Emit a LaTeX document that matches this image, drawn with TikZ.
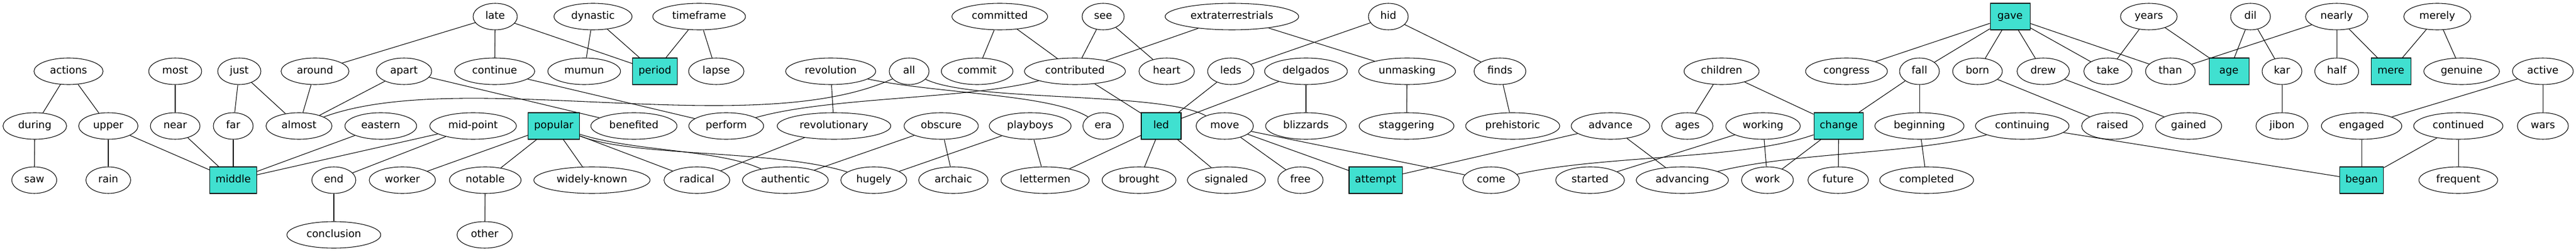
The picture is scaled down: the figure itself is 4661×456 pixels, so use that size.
\documentclass[tikz,border=0pt]{standalone}
\usepackage{fontspec}
\setmainfont{DejaVu Sans}
\usetikzlibrary{shapes.geometric}
\definecolor{hubfill}{HTML}{40E0D0}
\begin{document}
\begin{tikzpicture}[x=0.75pt,y=-0.75pt,
  every node/.style={font=\fontsize{14pt}{16pt}\selectfont, text height=10.3pt, text depth=3.3pt},
  word/.style={ellipse, draw, line width=0.8pt, inner xsep=7.92pt, inner ysep=2pt, minimum width=54pt, minimum height=36pt},
  hub/.style={rectangle, draw, fill=hubfill, line width=0.8pt, inner xsep=7.92pt, inner ysep=2pt, minimum width=54pt, minimum height=36pt},
  link/.style={line width=0.8pt}]
\useasboundingbox (0,0) rectangle (4661,456);
% row 0
\node[word] (late) at (896,30) {late};
\node[word] (dynastic) at (1073,30) {dynastic};
\node[word] (timeframe) at (1265,30) {timeframe};
\node[word] (committed) at (1809,30) {committed};
\node[word] (see) at (1996,30) {see};
\node[word] (extra) at (2229,30) {extraterrestrials};
\node[word] (hid) at (2512,30) {hid};
\node[hub] (gave) at (3637,30) {gave};
\node[word] (years) at (3888,30) {years};
\node[word] (dil) at (4072,30) {dil};
\node[word] (nearly) at (4228,30) {nearly};
\node[word] (merely) at (4410,30) {merely};
% row 1
\node[word] (actions) at (124,129) {actions};
\node[word] (most) at (317,129) {most};
\node[word] (just) at (433,129) {just};
\node[word] (around) at (570,129) {around};
\node[word] (apart) at (731,129) {apart};
\node[word] (continue) at (895,129) {continue};
\node[word] (mumun) at (1057,129) {mumun};
\node[hub] (period) at (1185,129) {period};
\node[word] (lapse) at (1296,129) {lapse};
\node[word] (revolution) at (1503,129) {revolution};
\node[word] (all) at (1645,129) {all};
\node[word] (commit) at (1768,129) {commit};
\node[word] (contributed) at (1945,129) {contributed};
\node[word] (heart) at (2111,129) {heart};
\node[word] (leds) at (2227,129) {leds};
\node[word] (delgados) at (2363,129) {delgados};
\node[word] (unmasking) at (2546,129) {unmasking};
\node[word] (finds) at (2714,129) {finds};
\node[word] (children) at (3115,129) {children};
\node[word] (congress) at (3341,129) {congress};
\node[word] (fall) at (3473,129) {fall};
\node[word] (born) at (3578,129) {born};
\node[word] (drew) at (3697,129) {drew};
\node[word] (take) at (3814,129) {take};
\node[word] (than) at (3927,129) {than};
\node[hub] (age) at (4033,129) {age};
\node[word] (kar) at (4129,129) {kar};
\node[word] (half) at (4228,129) {half};
\node[hub] (mere) at (4326,129) {mere};
\node[word] (genuine) at (4454,129) {genuine};
\node[word] (active) at (4601,129) {active};
% row 2
\node[word] (during) at (63,228) {during};
\node[word] (upper) at (196,228) {upper};
\node[word] (near) at (317,228) {near};
\node[word] (far) at (422,228) {far};
\node[word] (almost) at (541,228) {almost};
\node[word] (eastern) at (689,228) {eastern};
\node[word] (midpoint) at (856,228) {mid-point};
\node[hub] (popular) at (1002,228) {popular};
\node[word] (benefited) at (1147,228) {benefited};
\node[word] (perform) at (1314,228) {perform};
\node[word] (revolutionary) at (1509,228) {revolutionary};
\node[word] (obscure) at (1703,228) {obscure};
\node[word] (playboys) at (1864,228) {playboys};
\node[word] (era) at (1996,228) {era};
\node[hub] (led) at (2101,228) {led};
\node[word] (move) at (2216,228) {move};
\node[word] (blizzards) at (2363,228) {blizzards};
\node[word] (staggering) at (2545,228) {staggering};
\node[word] (prehistoric) at (2737,228) {prehistoric};
\node[word] (advance) at (2914,228) {advance};
\node[word] (ages) at (3053,228) {ages};
\node[word] (working) at (3190,228) {working};
\node[hub] (change) at (3327,228) {change};
\node[word] (beginning) at (3473,228) {beginning};
\node[word] (continuing) at (3659,228) {continuing};
\node[word] (raised) at (3822,228) {raised};
\node[word] (gained) at (3960,228) {gained};
\node[word] (jibon) at (4129,228) {jibon};
\node[word] (engaged) at (4273,228) {engaged};
\node[word] (continued) at (4448,228) {continued};
\node[word] (wars) at (4601,228) {wars};
% row 3
\node[word] (saw) at (62,326) {saw};
\node[word] (rain) at (196,326) {rain};
\node[hub] (middle) at (422,326) {middle};
\node[word] (nend) at (604,326) {end};
\node[word] (worker) at (728,326) {worker};
\node[word] (notable) at (878,326) {notable};
\node[word] (widely) at (1071,326) {widely-known};
\node[word] (radical) at (1261,326) {radical};
\node[word] (authentic) at (1421,326) {authentic};
\node[word] (hugely) at (1581,326) {hugely};
\node[word] (archaic) at (1725,326) {archaic};
\node[word] (lettermen) at (1891,326) {lettermen};
\node[word] (brought) at (2061,326) {brought};
\node[word] (signaled) at (2219,326) {signaled};
\node[word] (free) at (2353,326) {free};
\node[hub] (attempt) at (2489,326) {attempt};
\node[word] (come) at (2698,326) {come};
\node[word] (started) at (2877,326) {started};
\node[word] (advancing) at (3044,326) {advancing};
\node[word] (work) at (3198,326) {work};
\node[word] (future) at (3326,326) {future};
\node[word] (completed) at (3486,326) {completed};
\node[hub] (began) at (4273,326) {began};
\node[word] (frequent) at (4448,326) {frequent};
% row 4
\node[word] (conclusion) at (604,425) {conclusion};
\node[word] (other) at (877,425) {other};
% edges
\draw[link] (actions) -- (during);
\draw[link] (actions) -- (upper);
\draw[link] (during) -- (saw);
\draw[link] (upper) -- (rain);
\draw[link] (upper) -- (middle);
\draw[link] (most) -- (near);
\draw[link] (near) -- (middle);
\draw[link] (just) -- (far);
\draw[link] (just) -- (almost);
\draw[link] (far) -- (middle);
\draw[link] (around) -- (almost);
\draw[link] (apart) -- (almost);
\draw[link] (apart) -- (benefited);
\draw[link] (almost) .. controls (836,120) and (1364,257) .. (all);
\draw[link] (eastern) -- (middle);
\draw[link] (midpoint) -- (middle);
\draw[link] (midpoint) -- (nend);
\draw[link] (nend) -- (conclusion);
\draw[link] (late) -- (around);
\draw[link] (late) -- (continue);
\draw[link] (late) -- (period);
\draw[link] (dynastic) -- (mumun);
\draw[link] (dynastic) -- (period);
\draw[link] (timeframe) -- (period);
\draw[link] (timeframe) -- (lapse);
\draw[link] (continue) -- (perform);
\draw[link] (perform) .. controls (1500,175) and (1750,180) .. (contributed);
\draw[link] (revolution) -- (revolutionary);
\draw[link] (revolution) .. controls (1700,170) and (1900,170) .. (era);
\draw[link] (all) .. controls (1760,185) and (2100,165) .. (move);
\draw[link] (popular) -- (worker);
\draw[link] (popular) -- (notable);
\draw[link] (popular) -- (widely);
\draw[link] (popular) -- (radical);
\draw[link] (popular) .. controls (1150,275) and (1300,270) .. (authentic);
\draw[link] (popular) .. controls (1150,285) and (1400,270) .. (hugely);
\draw[link] (notable) -- (other);
\draw[link] (revolutionary) -- (radical);
\draw[link] (obscure) -- (authentic);
\draw[link] (obscure) -- (archaic);
\draw[link] (playboys) -- (hugely);
\draw[link] (playboys) -- (lettermen);
\draw[link] (committed) -- (commit);
\draw[link] (committed) -- (contributed);
\draw[link] (see) -- (contributed);
\draw[link] (see) -- (heart);
\draw[link] (extra) -- (contributed);
\draw[link] (extra) -- (unmasking);
\draw[link] (contributed) -- (led);
\draw[link] (leds) -- (led);
\draw[link] (hid) -- (leds);
\draw[link] (hid) -- (finds);
\draw[link] (delgados) -- (led);
\draw[link] (delgados) -- (blizzards);
\draw[link] (unmasking) -- (staggering);
\draw[link] (finds) -- (prehistoric);
\draw[link] (led) -- (lettermen);
\draw[link] (led) -- (brought);
\draw[link] (led) -- (signaled);
\draw[link] (move) -- (free);
\draw[link] (move) -- (attempt);
\draw[link] (move) -- (come);
\draw[link] (advance) -- (attempt);
\draw[link] (advance) -- (advancing);
\draw[link] (come) .. controls (2900,280) and (3150,290) .. (change);
\draw[link] (working) -- (started);
\draw[link] (working) -- (work);
\draw[link] (children) -- (ages);
\draw[link] (children) -- (change);
\draw[link] (fall) -- (change);
\draw[link] (fall) -- (beginning);
\draw[link] (change) -- (work);
\draw[link] (change) -- (future);
\draw[link] (beginning) -- (completed);
\draw[link] (continuing) .. controls (3450,280) and (3250,275) .. (advancing);
\draw[link] (continuing) -- (began);
\draw[link] (gave) -- (congress);
\draw[link] (gave) -- (fall);
\draw[link] (gave) -- (born);
\draw[link] (gave) -- (drew);
\draw[link] (gave) -- (take);
\draw[link] (gave) -- (than);
\draw[link] (born) -- (raised);
\draw[link] (drew) -- (gained);
\draw[link] (years) -- (take);
\draw[link] (years) -- (age);
\draw[link] (dil) -- (age);
\draw[link] (dil) -- (kar);
\draw[link] (kar) -- (jibon);
\draw[link] (nearly) -- (than);
\draw[link] (nearly) -- (half);
\draw[link] (nearly) -- (mere);
\draw[link] (merely) -- (mere);
\draw[link] (merely) -- (genuine);
\draw[link] (active) -- (engaged);
\draw[link] (active) -- (wars);
\draw[link] (engaged) -- (began);
\draw[link] (continued) -- (began);
\draw[link] (continued) -- (frequent);
\end{tikzpicture}
\end{document}
